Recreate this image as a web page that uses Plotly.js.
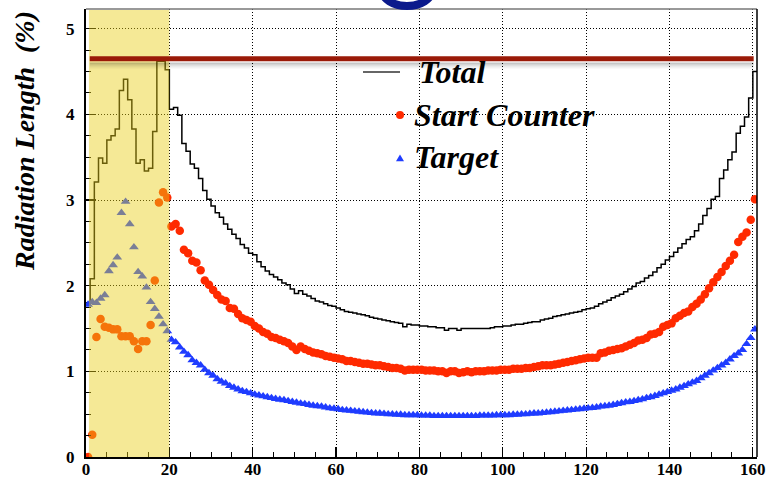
<!DOCTYPE html>
<html>
<head>
<meta charset="utf-8">
<script src="https://cdn.plot.ly/plotly-3.0.1.min.js"></script>
<style>html,body{margin:0;padding:0;background:#fff;}#chart{width:769px;height:482px;}</style>
</head>
<body>
<div id="chart"></div>
<script>
// ---- data ----
const seriesNames = ["Total", "Start Counter", "Target"];
const xTickVals = [0, 20, 40, 60, 80, 100, 120, 140, 160];
const xTickText = ["0", "20", "40", "60", "80", "100", "120", "140", "160"];
const yTickVals = [0, 1, 2, 3, 4, 5];
const yTickText = ["0", "1", "2", "3", "4", "5"];
const yTitle = "Radiation Length  (%)";

// bin index 0..160 (bin width 1)
const totalValues = [
 1.80,2.08,3.21,3.49,3.43,3.70,3.75,3.83,4.28,4.41,
 4.17,3.83,3.43,3.47,3.34,3.37,3.80,4.62,4.62,4.52,
 4.06,4.08,3.99,3.66,3.57,3.42,3.37,3.25,3.11,3.01,
 2.93,2.85,2.80,2.72,2.66,2.60,2.55,2.48,2.44,2.38,
 2.36,2.28,2.22,2.17,2.13,2.10,2.07,2.03,2.01,1.96,
 1.91,1.94,1.90,1.88,1.85,1.82,1.81,1.79,1.77,1.76,
 1.74,1.72,1.70,1.69,1.68,1.67,1.66,1.65,1.63,1.62,
 1.61,1.60,1.59,1.58,1.57,1.56,1.52,1.55,1.54,1.54,
 1.53,1.53,1.52,1.52,1.51,1.51,1.48,1.50,1.50,1.48,
 1.50,1.50,1.50,1.50,1.50,1.50,1.50,1.51,1.52,1.52,
 1.53,1.53,1.54,1.55,1.55,1.56,1.57,1.58,1.58,1.60,
 1.61,1.62,1.64,1.65,1.66,1.67,1.68,1.69,1.70,1.72,
 1.73,1.74,1.76,1.79,1.81,1.83,1.86,1.88,1.90,1.93,
 1.96,1.99,2.03,2.05,2.09,2.12,2.16,2.21,2.25,2.30,
 2.34,2.39,2.44,2.49,2.54,2.57,2.64,2.72,2.82,2.90,
 3.01,3.04,3.25,3.35,3.47,3.56,3.78,3.86,3.97,4.19,
 4.50
];
const startCounterValues = [
 0.00,0.26,1.40,1.61,1.52,1.51,1.49,1.49,1.41,1.41,
 1.41,1.35,1.26,1.35,1.35,1.54,2.06,2.97,3.09,3.03,
 2.69,2.72,2.64,2.42,2.38,2.29,2.27,2.18,2.06,2.01,
 1.95,1.89,1.84,1.82,1.74,1.73,1.67,1.62,1.60,1.58,
 1.53,1.50,1.46,1.44,1.40,1.39,1.37,1.35,1.33,1.29,
 1.25,1.29,1.26,1.24,1.22,1.21,1.20,1.18,1.17,1.16,
 1.15,1.14,1.12,1.12,1.11,1.10,1.09,1.09,1.08,1.07,
 1.07,1.06,1.05,1.04,1.04,1.03,1.01,1.02,1.02,1.02,
 1.02,1.01,1.01,1.01,1.00,1.00,0.98,1.00,1.00,0.98,
 0.99,1.00,0.99,1.00,1.00,1.00,1.01,1.01,1.01,1.02,
 1.02,1.02,1.03,1.03,1.03,1.04,1.04,1.05,1.06,1.07,
 1.07,1.07,1.08,1.09,1.10,1.11,1.12,1.13,1.14,1.15,
 1.16,1.16,1.16,1.21,1.22,1.24,1.25,1.26,1.27,1.29,
 1.31,1.33,1.36,1.37,1.39,1.43,1.44,1.46,1.52,1.54,
 1.56,1.62,1.65,1.68,1.70,1.75,1.79,1.84,1.90,1.97,
 2.04,2.10,2.16,2.23,2.29,2.36,2.51,2.57,2.62,2.77,
 3.01
];
const targetValues = [
 1.78,1.81,1.80,1.85,1.89,2.17,2.24,2.33,2.85,2.98,
 2.72,2.45,2.16,2.11,1.98,1.81,1.73,1.64,1.55,1.47,
 1.37,1.34,1.28,1.23,1.19,1.13,1.10,1.07,1.02,0.98,
 0.95,0.91,0.88,0.86,0.83,0.81,0.79,0.77,0.76,0.745,
 0.73,0.72,0.71,0.70,0.69,0.68,0.67,0.665,0.655,0.645,
 0.635,0.625,0.62,0.61,0.60,0.595,0.59,0.58,0.57,0.565,
 0.56,0.55,0.545,0.54,0.535,0.53,0.525,0.52,0.515,0.51,
 0.51,0.505,0.50,0.50,0.495,0.495,0.49,0.49,0.49,0.49,
 0.485,0.485,0.485,0.48,0.48,0.48,0.48,0.48,0.48,0.48,
 0.48,0.48,0.48,0.48,0.485,0.485,0.485,0.485,0.49,0.49,
 0.49,0.49,0.495,0.495,0.50,0.50,0.505,0.51,0.51,0.515,
 0.52,0.525,0.53,0.535,0.54,0.545,0.55,0.555,0.56,0.565,
 0.57,0.575,0.58,0.59,0.595,0.60,0.61,0.62,0.63,0.64,
 0.645,0.655,0.665,0.675,0.69,0.70,0.715,0.73,0.745,0.76,
 0.775,0.79,0.81,0.83,0.85,0.87,0.89,0.92,0.95,0.98,
 1.01,1.04,1.07,1.10,1.14,1.18,1.21,1.25,1.32,1.39,
 1.49
];
const binWidth = 1;
const xMin = 0, xMax = 161;
const yMin = 0, yMax = 5.23;
const highlightFrom = 0.7, highlightTo = 20;   // shaded region (x)
const markerLevel = 4.65;                       // horizontal red marker line (y)

// ---- derived ----
const centers = startCounterValues.map((_, i) => i * binWidth + binWidth / 2);
const edges = totalValues.map((_, i) => i * binWidth).concat([totalValues.length * binWidth]);
const totalStep = totalValues.concat([totalValues[totalValues.length - 1]]);

// ---- layout geometry ----
const W = 769, H = 482, ML = 86, MR = 12, MT = 9, MB = 25;
const PW = W - ML - MR, PH = H - MT - MB;
const px = p => (p - ML) / PW;        // pixel x -> paper
const py = p => (H - MB - p) / PH;    // pixel y -> paper

const serif = "Liberation Serif, Times New Roman, serif";

const traces = [
  {x: edges, y: totalStep, type: "scatter", mode: "lines", name: seriesNames[0],
   line: {shape: "hv", color: "#000000", width: 1.5}, showlegend: false},
  {x: centers, y: startCounterValues, type: "scatter", mode: "markers", name: seriesNames[1],
   marker: {symbol: "circle", size: 8.5, color: "#ff2a00"}, showlegend: false},
  {x: centers, y: targetValues, type: "scatter", mode: "markers", name: seriesNames[2],
   marker: {symbol: "triangle-up", size: 8.5, color: "#1f3cff"}, showlegend: false}
];

// legend symbols
const triX = 400, triY = 158, triS = 4;
const legendShapes = [
  {type: "line", xref: "paper", yref: "paper", x0: px(363), x1: px(400), y0: py(72), y1: py(72),
   line: {color: "#333333", width: 1.5}},
  {type: "circle", xref: "paper", yref: "paper", x0: px(396), x1: px(404), y0: py(119), y1: py(111),
   fillcolor: "#ff2a00", line: {width: 0}},
  {type: "path", xref: "paper", yref: "paper",
   path: `M ${px(triX - triS)} ${py(triY + triS * 0.8)} L ${px(triX + triS)} ${py(triY + triS * 0.8)} L ${px(triX)} ${py(triY - triS * 0.9)} Z`,
   fillcolor: "#1f3cff", line: {width: 0}}
];

const shapes = [
  // shaded highlight over the first 20 units (semi-transparent, above data)
  {type: "rect", xref: "x", yref: "paper", x0: highlightFrom, x1: highlightTo, y0: 0, y1: 0.998,
   fillcolor: "rgb(233,206,22)", opacity: 0.45, line: {width: 0}, layer: "above"},
  // shadow of marker line
  {type: "line", xref: "x", yref: "paper", x0: 0.9, x1: 160.2, y0: py(63.5), y1: py(63.5),
   line: {color: "rgba(0,0,0,0.22)", width: 2}, layer: "above"},
  {type: "line", xref: "x", yref: "paper", x0: 0.9, x1: 160.2, y0: py(65.5), y1: py(65.5),
   line: {color: "rgba(0,0,0,0.12)", width: 2}, layer: "above"},
  {type: "line", xref: "x", yref: "paper", x0: 0.9, x1: 160.2, y0: py(67.5), y1: py(67.5),
   line: {color: "rgba(0,0,0,0.05)", width: 2}, layer: "above"},
  // marker line
  {type: "line", xref: "x", yref: "y", x0: 0.9, x1: 160.2, y0: markerLevel, y1: markerLevel,
   line: {color: "#9a1a08", width: 5}, layer: "above"},
  // frame: top (grey) and right (black)
  {type: "line", xref: "paper", yref: "paper", x0: 0, x1: 1, y0: 1, y1: 1,
   line: {color: "#777777", width: 1.5}, layer: "above"},
  {type: "line", xref: "paper", yref: "paper", x0: 1, x1: 1, y0: 0, y1: 1,
   line: {color: "#000000", width: 1.5}, layer: "above"},
  // partially visible dark-blue letter at the very top
  {type: "circle", xref: "paper", yref: "paper", x0: px(382), x1: px(432), y0: py(6), y1: py(-26),
   line: {color: "#0b1a8c", width: 8}, fillcolor: "rgba(0,0,0,0)"}
].concat(legendShapes);

const legendFont = {family: serif, size: 32, color: "#000", weight: "bold", style: "italic"};
const annotations = [
  {xref: "paper", yref: "paper", x: px(417), y: py(72), xanchor: "left", yanchor: "middle",
   text: seriesNames[0], showarrow: false, font: legendFont},
  {xref: "paper", yref: "paper", x: px(412), y: py(115), xanchor: "left", yanchor: "middle",
   text: seriesNames[1], showarrow: false, font: legendFont},
  {xref: "paper", yref: "paper", x: px(412), y: py(157), xanchor: "left", yanchor: "middle",
   text: seriesNames[2], showarrow: false, font: legendFont},
  {xref: "paper", yref: "paper", x: px(25), y: py(141), xanchor: "center", yanchor: "middle",
   text: yTitle, textangle: -90, showarrow: false,
   font: {family: serif, size: 28, color: "#000", weight: "bold", style: "italic"}}
];

const tickFont = {family: serif, size: 17, color: "#000", weight: "bold"};
const layout = {
  width: W, height: H,
  margin: {l: ML, r: MR, t: MT, b: MB, pad: 0},
  paper_bgcolor: "#ffffff", plot_bgcolor: "#ffffff",
  showlegend: false,
  xaxis: {
    range: [xMin, xMax], tickmode: "array", tickvals: xTickVals, ticktext: xTickText,
    ticks: "inside", ticklen: 10, tickwidth: 1.2, tickcolor: "#000",
    minor: {dtick: 5, tick0: 0, ticks: "inside", ticklen: 5, tickwidth: 1, tickcolor: "#000", showgrid: false},
    showline: true, linecolor: "#000", linewidth: 2, mirror: false,
    showgrid: true, gridcolor: "#000", gridwidth: 1, griddash: "1px,2px",
    zeroline: false, tickfont: tickFont, ticklabelstandoff: -4
  },
  yaxis: {
    range: [yMin, yMax], tickmode: "array", tickvals: yTickVals, ticktext: yTickText,
    ticks: "inside", ticklen: 10, tickwidth: 1.2, tickcolor: "#000",
    minor: {dtick: 0.25, tick0: 0, ticks: "inside", ticklen: 5, tickwidth: 1, tickcolor: "#000", showgrid: false},
    showline: true, linecolor: "#000", linewidth: 2, mirror: false,
    showgrid: true, gridcolor: "#000", gridwidth: 1, griddash: "1px,2px",
    zeroline: false, tickfont: tickFont, ticklabelstandoff: 6
  },
  shapes: shapes,
  annotations: annotations
};

Plotly.newPlot("chart", traces, layout, {staticPlot: true, displayModeBar: false});
</script>
</body>
</html>
